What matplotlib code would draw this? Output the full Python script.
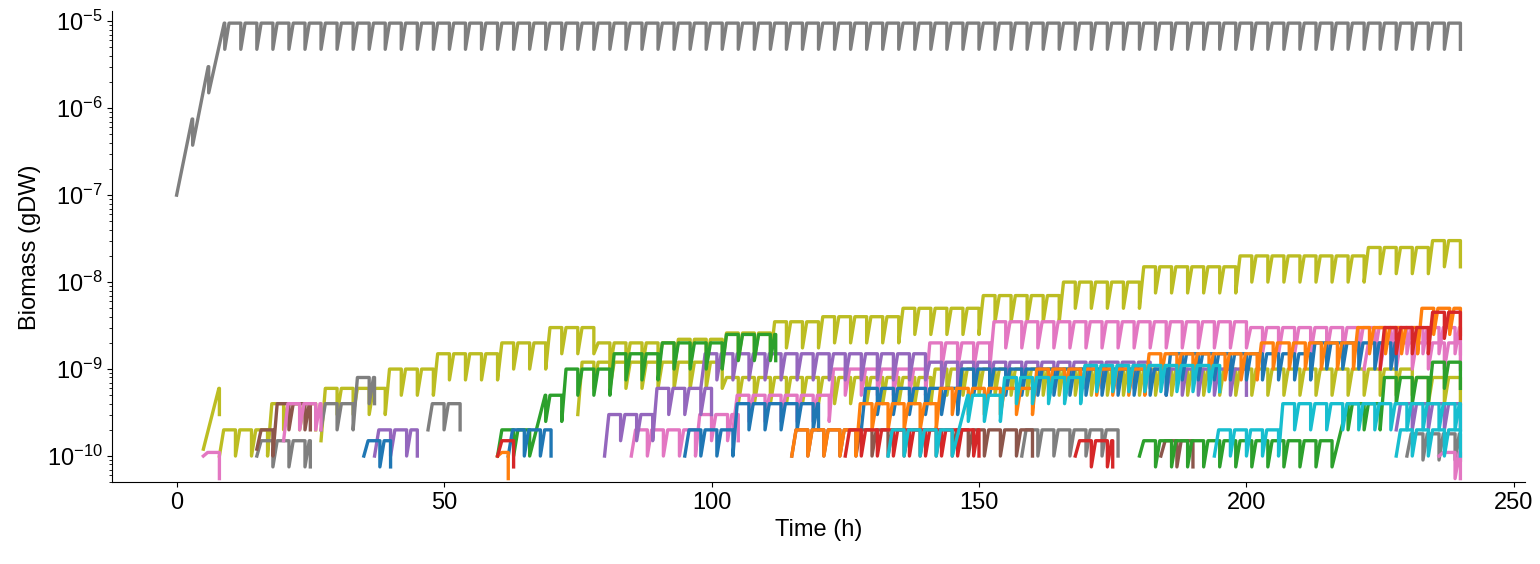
import numpy as np
import matplotlib.pyplot as plt

plt.rcParams["font.family"] = "Liberation Sans"

# each trace: color, start time, end time, starting biomass, [(time, peak biomass)]
traces = [
    ("tab:gray",  0, 240, 1e-7,    [(0, 7.5e-7), (3, 3e-6), (6, 9.5e-6)]),
    ("tab:olive", 5, 8, 1.2e-10,   [(5, 6e-10)]),
    ("tab:olive", 8, 26, 1e-10,    [(8, 2e-10), (17, 4e-10)]),
    ("tab:olive", 27, 240, 1.5e-10, [(27, 6e-10), (38, 1e-9), (48, 1.5e-9), (58, 2e-9), (68, 3e-9),
                                   (78, 2e-9), (92, 2.2e-9), (102, 2.6e-9), (110, 3.5e-9), (120, 4e-9),
                                   (135, 5e-9), (148, 7e-9), (163, 1e-8), (178, 1.5e-8), (198, 2e-8),
                                   (222, 2.5e-8), (234, 3e-8)]),
    ("tab:olive", 75, 240, 3e-10,  [(75, 1.2e-9), (100, 8e-10), (140, 1e-9), (200, 1e-9), (230, 8e-10)]),
    ("tab:gray",  15, 25, 1e-10,   [(15, 1.5e-10)]),
    ("tab:gray",  27, 37, 2e-10,   [(27, 4e-10), (31, 8e-10)]),
    ("tab:gray",  47, 53, 2e-10,   [(47, 4e-10)]),
    ("tab:gray",  158, 176, 1e-10, [(158, 2e-10)]),
    ("tab:gray",  230, 240, 1e-10, [(230, 1.8e-10)]),
    ("tab:brown", 15, 25, 1.2e-10, [(15, 2e-10), (18, 4e-10)]),
    ("tab:brown", 115, 160, 1e-10, [(115, 2e-10)]),
    ("tab:brown", 184, 190, 1e-10, [(184, 1.5e-10)]),
    ("tab:pink",  5, 8, 1e-10,     [(5, 1.1e-10)]),
    ("tab:pink",  20, 27, 1.5e-10, [(20, 4e-10)]),
    ("tab:pink",  85, 105, 1e-10,  [(85, 2e-10), (95, 3e-10)]),
    ("tab:pink",  104, 240, 2e-10, [(104, 5e-10), (120, 1e-9), (140, 2e-9), (152, 3.5e-9), (200, 3e-9)]),
    ("tab:pink",  222, 240, 1e-9,  [(222, 2e-9)]),
    ("tab:pink",  236, 240, 1e-10, [(236, 1.1e-10)]),
    ("tab:purple", 37, 45, 1e-10,  [(37, 2e-10)]),
    ("tab:purple", 80, 100, 1e-10, [(80, 3e-10), (88, 6e-10)]),
    ("tab:purple", 98, 200, 6e-10, [(98, 1.5e-9), (140, 1.2e-9), (180, 1e-9)]),
    ("tab:purple", 228, 240, 2e-10, [(228, 4e-10)]),
    ("tab:green", 60, 112, 1e-10,  [(60, 2e-10), (65, 5e-10), (70, 1e-9), (80, 1.5e-9),
                                   (90, 2e-9), (100, 2.5e-9)]),
    ("tab:green", 180, 240, 1e-10, [(180, 1.5e-10), (215, 4e-10), (225, 8e-10), (232, 1.2e-9)]),
    ("tab:blue",  35, 40, 1e-10,   [(35, 1.5e-10)]),
    ("tab:blue",  62, 70, 1e-10,   [(62, 2e-10)]),
    ("tab:blue",  95, 120, 1e-10,  [(95, 2e-10), (103, 4e-10)]),
    ("tab:blue",  128, 228, 2e-10, [(128, 6e-10), (145, 1e-9), (185, 1.5e-9), (210, 2e-9)]),
    ("tab:orange", 60, 62, 1e-10,  [(60, 1.1e-10)]),
    ("tab:orange", 115, 240, 1e-10, [(115, 2e-10), (125, 4e-10), (140, 6e-10), (160, 1e-9),
                                    (180, 1.5e-9), (200, 2e-9), (220, 3e-9), (232, 5e-9)]),
    ("tab:red",   60, 63, 1e-10,   [(60, 1.5e-10)]),
    ("tab:red",   125, 150, 1e-10, [(125, 2e-10)]),
    ("tab:red",   168, 175, 1e-10, [(168, 1.5e-10)]),
    ("tab:red",   225, 240, 1e-9,  [(225, 3e-9), (232, 4.5e-9)]),
    ("tab:cyan",  133, 195, 1e-10, [(133, 2e-10), (143, 5e-10), (153, 8e-10), (168, 1.1e-9)]),
    ("tab:cyan",  194, 240, 1e-10, [(194, 2e-10), (205, 4e-10)]),
    ("tab:cyan",  228, 240, 1e-10, [(228, 2e-10)]),
]

period = 3.0

fig, ax = plt.subplots(figsize=(15.4, 5.64), dpi=100)
for color, t0, t1, start, keys in traces:
    ts, ys = [], []
    t, val = t0, start
    while t < t1 - 0.1:
        peak = [p for kt, p in keys if kt <= t + 0.01][-1]
        tend = min(t + period, t1)
        rise = 2.9 if peak / val > 4 else 0.8
        ts += [t, t + min(rise, tend - t), tend]
        ys += [val, peak, peak]
        val = peak / 2
        ts.append(tend)
        ys.append(val)
        t = tend
    ax.plot(ts, ys, color=color, lw=2.4)

ax.set_yscale("log")
ax.set_ylim(5e-11, 1.3e-5)
ax.set_xlim(-12, 252)
ax.set_xticks([0, 50, 100, 150, 200, 250])
ax.set_yticks([1e-10, 1e-9, 1e-8, 1e-7, 1e-6, 1e-5])
ax.tick_params(labelsize=17)
ax.set_xlabel("Time (h)", fontsize=17)
ax.set_ylabel("Biomass (gDW)", fontsize=17)
for s in ["top", "right"]:
    ax.spines[s].set_visible(False)
fig.subplots_adjust(left=0.073, right=0.99, top=0.98, bottom=0.145)
fig.savefig("out.png")
